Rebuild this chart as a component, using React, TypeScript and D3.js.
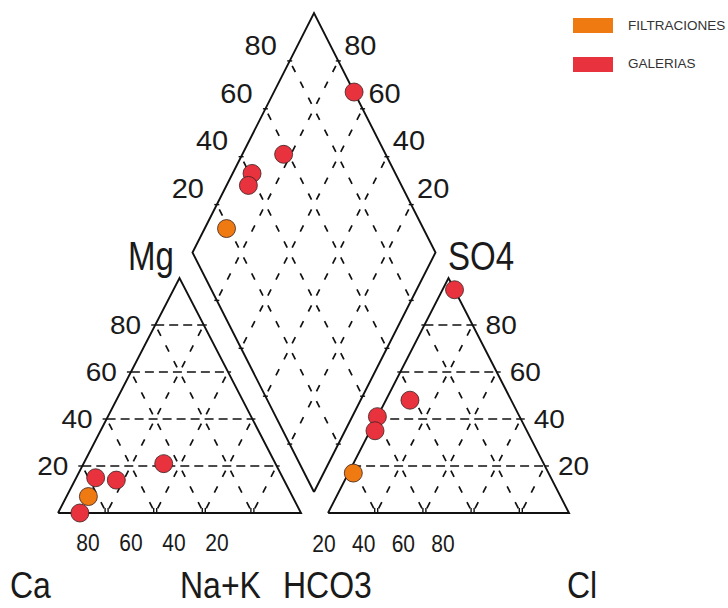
import React from 'react';
import * as d3 from 'd3';

// ---- data (percent meq/l) ----
const sampleGroup = ['GALERIAS', 'GALERIAS', 'GALERIAS', 'GALERIAS', 'FILTRACIONES'];
const ca = [46, 69, 77, 91, 84];
const mg = [21, 14, 15, 0, 7];
const nak = [33, 17, 8, 9, 9];
const hco3 = [0, 42, 59, 63, 81];
const so4 = [95, 48, 41, 35, 17];
const cl = [5, 10, 0, 2, 2];

const gridLevels = [20, 40, 60, 80];
const bottomLeftTicks = [80, 60, 40, 20];
const bottomRightTicks = [20, 40, 60, 80];
const legendNames = ['FILTRACIONES', 'GALERIAS'];
const legendColors = ['#EE7A11', '#E8323E'];

const FONT = 'Liberation Sans, Arial, sans-serif';
const W = 728;
const H = 608;

// ---- scales ----
const xL = d3.scaleLinear().domain([0, 100]).range([58, 301]);
const xR = d3.scaleLinear().domain([0, 100]).range([328, 569]);
const yT = d3.scaleLinear().domain([0, 100]).range([513, 278]);
const xD = d3.scaleLinear().domain([-100, 100]).range([192.5, 435.5]);
const yD = d3.scaleLinear().domain([0, 200]).range([492, 13]);
const bl = d3.scaleLinear().domain([80, 20]).range([88, 217]);
const br = d3.scaleLinear().domain([20, 80]).range([324, 443]);
const color = d3.scaleOrdinal<string, string>().domain(legendNames).range(legendColors);

type P = [number, number];
const leftPt = (na: number, m: number): P => [xL(na + m / 2), yT(m)];
const rightPt = (c: number, s: number): P => [xR(c + s / 2), yT(s)];
const diaPt = (p: number, q: number): P => [xD(q - p), yD(p + q)];

const line = d3.line<P>();
const len = (a: P, b: P) => Math.hypot(b[0] - a[0], b[1] - a[1]);

function sparse(a: P, b: P, seg: number) {
  const period = seg / 3;
  const dash = 7;
  return { d: line([a, b]) as string, dasharray: `${dash},${period - dash}`, offset: -period / 2 + dash / 2 };
}

function Label(props: { x: number; y: number; text: string; size: number; sy: number; anchor?: string; fill?: string }) {
  const { x, y, text, size, sy, anchor = 'middle', fill = '#1a1a1a' } = props;
  return (
    <text
      transform={`translate(${x},${y}) scale(1,${sy})`}
      fontSize={size}
      fontFamily={FONT}
      textAnchor={anchor}
      dominantBaseline="central"
      fill={fill}
    >
      {text}
    </text>
  );
}

export default function App() {
  const segT = len(leftPt(20, 0), leftPt(20, 20));
  const segD = len(diaPt(20, 0), diaPt(20, 20));

  const solid: string[] = [];
  const horiz: string[] = [];
  const sparseLines: { d: string; dasharray: string; offset: number }[] = [];
  const ticks: string[] = [];

  // outlines
  solid.push(line([leftPt(0, 0), leftPt(100, 0), leftPt(0, 100), leftPt(0, 0)]) as string);
  solid.push(line([rightPt(0, 0), rightPt(100, 0), rightPt(0, 100), rightPt(0, 0)]) as string);
  solid.push(line([diaPt(0, 0), diaPt(100, 0), diaPt(100, 100), diaPt(0, 100), diaPt(0, 0)]) as string);

  gridLevels.forEach((v) => {
    // left triangle
    const a = leftPt(0, v), b = leftPt(100 - v, v);
    horiz.push(line([a, b]) as string);
    sparseLines.push(sparse(leftPt(v, 0), leftPt(v, 100 - v), segT));
    sparseLines.push(sparse(leftPt(100 - v, 0), leftPt(0, 100 - v), segT));
    ticks.push(line([[a[0] - 4, a[1]], a]) as string);
    ticks.push(line([b, [b[0] + 3, b[1]]]) as string);
    const bx = xL(v);
    ticks.push(line([[bx - 1.5, 513], [bx - 1.5, 508]]) as string);
    ticks.push(line([[bx + 1.5, 513], [bx + 1.5, 508]]) as string);

    // right triangle
    const c = rightPt(0, v), e = rightPt(100 - v, v);
    horiz.push(line([c, e]) as string);
    sparseLines.push(sparse(rightPt(v, 0), rightPt(v, 100 - v), segT));
    sparseLines.push(sparse(rightPt(100 - v, 0), rightPt(0, 100 - v), segT));
    ticks.push(line([[c[0] - 3, c[1]], c]) as string);
    ticks.push(line([e, [e[0] + 4, e[1]]]) as string);
    const rx = xR(v);
    ticks.push(line([[rx - 1.5, 513], [rx - 1.5, 508]]) as string);
    ticks.push(line([[rx + 1.5, 513], [rx + 1.5, 508]]) as string);

    // diamond
    sparseLines.push(sparse(diaPt(v, 0), diaPt(v, 100), segD));
    sparseLines.push(sparse(diaPt(0, v), diaPt(100, v), segD));
    [diaPt(100, v), diaPt(v, 100), diaPt(0, v), diaPt(v, 0)].forEach((p) => {
      ticks.push(line([[p[0] - 2.5, p[1]], [p[0] + 2.5, p[1]]]) as string);
    });
  });

  const idx = d3.range(ca.length);

  return (
    <svg
      width={W}
      height={H}
      viewBox={`0 0 ${W} ${H}`}
      style={{ position: 'absolute', left: 0, top: 0, background: '#fff' }}
    >
      <rect x={0} y={0} width={W} height={H} fill="#fff" />

      {/* grid */}
      <g fill="none" stroke="#111" strokeWidth={1.7}>
        {horiz.map((d, i) => (
          <path key={'h' + i} d={d} strokeDasharray="9,5" />
        ))}
        {sparseLines.map((s, i) => (
          <path key={'s' + i} d={s.d} strokeDasharray={s.dasharray} strokeDashoffset={s.offset} />
        ))}
        {ticks.map((d, i) => (
          <path key={'t' + i} d={d} strokeWidth={1.4} />
        ))}
      </g>

      {/* outlines */}
      <g fill="none" stroke="#111" strokeWidth={1.9} strokeLinejoin="miter">
        {solid.map((d, i) => (
          <path key={'o' + i} d={d} />
        ))}
      </g>

      {/* tick labels */}
      <g>
        {gridLevels.map((v) => {
          const a = leftPt(0, v);
          const e = rightPt(100 - v, v);
          const dl = diaPt(100, v);
          const dr = diaPt(v, 100);
          return (
            <g key={'lab' + v}>
              <Label x={a[0] - 14} y={a[1]} text={String(v)} size={28} sy={0.92} anchor="end" />
              <Label x={e[0] + 13} y={e[1]} text={String(v)} size={28} sy={0.92} anchor="start" />
              <Label x={dl[0] - 29} y={dl[1] - 16} text={String(v)} size={29} sy={0.95} />
              <Label x={dr[0] + 22} y={dr[1] - 16} text={String(v)} size={29} sy={0.95} />
            </g>
          );
        })}
        {bottomLeftTicks.map((v) => (
          <Label key={'bl' + v} x={bl(v)} y={543} text={String(v)} size={21} sy={1.13} />
        ))}
        {bottomRightTicks.map((v) => (
          <Label key={'br' + v} x={br(v)} y={544} text={String(v)} size={21} sy={1.13} />
        ))}
      </g>

      {/* axis names */}
      <g>
        <Label x={128} y={256} text="Mg" size={33} sy={1.25} anchor="start" />
        <Label x={448} y={256} text="SO4" size={33} sy={1.25} anchor="start" />
        <Label x={10} y={585} text="Ca" size={32} sy={1.18} anchor="start" />
        <Label x={180} y={585} text="Na+K" size={32} sy={1.18} anchor="start" />
        <Label x={283} y={585} text="HCO3" size={32} sy={1.18} anchor="start" />
        <Label x={567} y={585} text="Cl" size={32} sy={1.18} anchor="start" />
      </g>

      {/* points */}
      <g stroke="#3a2020" strokeWidth={0.8}>
        {idx.map((i) => {
          const pl = leftPt(nak[i], mg[i]);
          const pr = rightPt(cl[i], so4[i]);
          const pd = diaPt(100 - nak[i], 100 - hco3[i]);
          const f = color(sampleGroup[i]);
          return (
            <g key={'pt' + i} fill={f}>
              <circle cx={pl[0]} cy={pl[1]} r={9} />
              <circle cx={pr[0]} cy={pr[1]} r={9} />
              <circle cx={pd[0]} cy={pd[1]} r={9} />
            </g>
          );
        })}
      </g>

      {/* legend */}
      <g>
        {legendNames.map((n, i) => (
          <g key={'lg' + n}>
            <rect x={573} y={18 + i * 39} width={40} height={15} fill={legendColors[i]} />
            <Label x={628} y={25.5 + i * 38} text={n} size={13.5} sy={1} anchor="start" fill="#333" />
          </g>
        ))}
      </g>
    </svg>
  );
}
